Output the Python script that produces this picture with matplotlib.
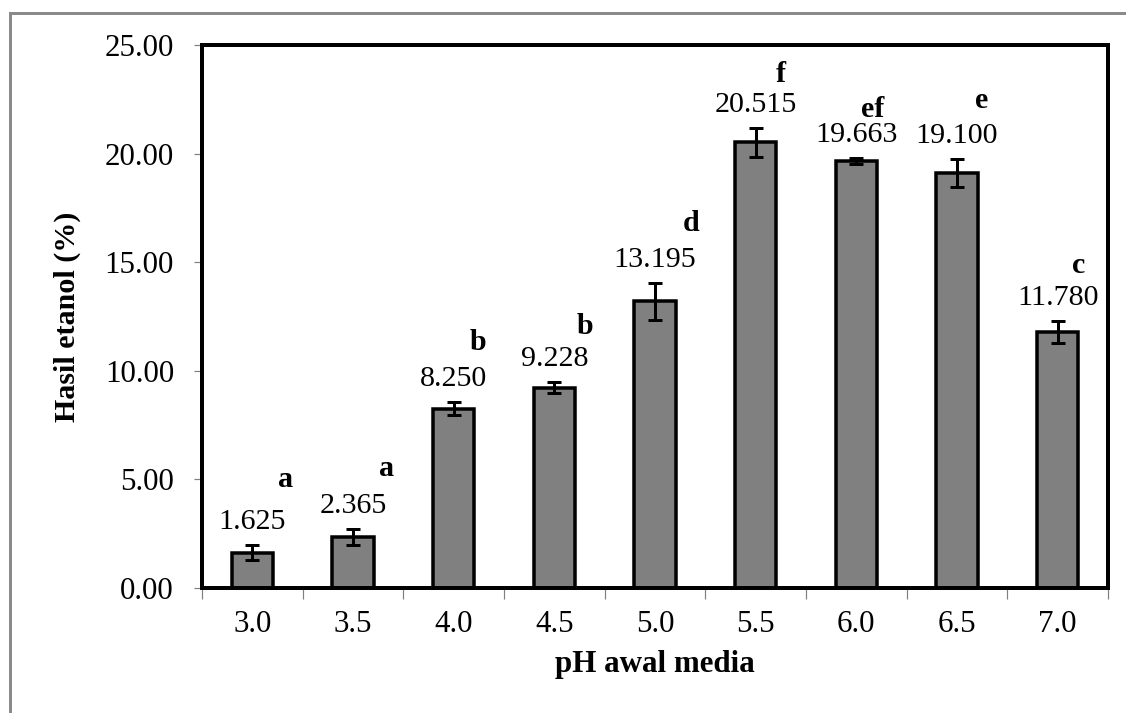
import matplotlib
matplotlib.use("Agg")
import matplotlib.pyplot as plt
import matplotlib.patches as mpatches
import numpy as np

# data
ph_labels = ["3.0", "3.5", "4.0", "4.5", "5.0", "5.5", "6.0", "6.5", "7.0"]
hasil = [1.625, 2.365, 8.250, 9.228, 13.195, 20.515, 19.663, 19.100, 11.780]
sd = [0.35, 0.37, 0.30, 0.25, 0.87, 0.65, 0.12, 0.65, 0.52]
notasi = ["a", "a", "b", "b", "d", "f", "ef", "e", "c"]

# letter placement tweaks (points, dpi=72 so 1pt = 1px)
letter_dx = [33, 34, 24, 31, 36, 25, 16, 25, 21]
letter_dy = [42, 37, 36, 32, 36, 30, 25, 35, 32]

plt.rcParams['font.family'] = ['Liberation Serif', 'DejaVu Serif']

W, H = 1126, 713
fig = plt.figure(figsize=(W / 72, H / 72), dpi=72)
ax = fig.add_axes([202 / W, 1 - 588 / H, (1108 - 202) / W, (588 - 45) / H])

x = np.arange(len(hasil))
ax.bar(x, hasil, width=0.41, color="#808080", edgecolor="black", linewidth=3.5, zorder=2)
ax.errorbar(x, hasil, yerr=sd, fmt="none", ecolor="black", elinewidth=3,
            capsize=7, capthick=3, zorder=3)

for i in range(len(hasil)):
    top = hasil[i] + sd[i]
    ax.annotate("%.3f" % hasil[i], (x[i], top), xytext=(0, 16), textcoords="offset points",
                ha="center", va="baseline", fontsize=30)
    ax.annotate(notasi[i], (x[i], top), xytext=(letter_dx[i], 16 + letter_dy[i]),
                textcoords="offset points", ha="center", va="baseline",
                fontsize=30, fontweight="bold")

ax.set_xlim(-0.5, len(hasil) - 0.5)
ax.set_ylim(0, 25)
ax.set_yticks(np.arange(0, 25.1, 5))
ax.set_yticklabels(["%.2f" % v for v in np.arange(0, 25.1, 5)])
ax.set_xticks(x)
ax.set_xticklabels(ph_labels)
ax.set_xticks(np.arange(-0.5, len(hasil)), minor=True)

ax.tick_params(axis="y", direction="out", length=8, width=1.2, color="#808080",
               labelsize=31, pad=20)
ax.tick_params(axis="x", which="major", length=0, labelsize=31, pad=22)
ax.tick_params(axis="x", which="minor", direction="out", length=11, width=1.2,
               color="#808080")

for s in ax.spines.values():
    s.set_linewidth(4)
    s.set_color("black")

ax.set_xlabel("pH awal media", fontsize=31, fontweight="bold", labelpad=11)
ax.set_ylabel("Hasil etanol (%)", fontsize=30, fontweight="bold", labelpad=24)

# outer chart-area border (only left and top show in the crop)
fig.patches.append(mpatches.Rectangle((10 / W, -0.2), 1.5, 1 - 13 / H + 0.2,
                                      transform=fig.transFigure, fill=False,
                                      edgecolor="#8a8a8a", linewidth=3))

fig.savefig("out.png", dpi=72)
